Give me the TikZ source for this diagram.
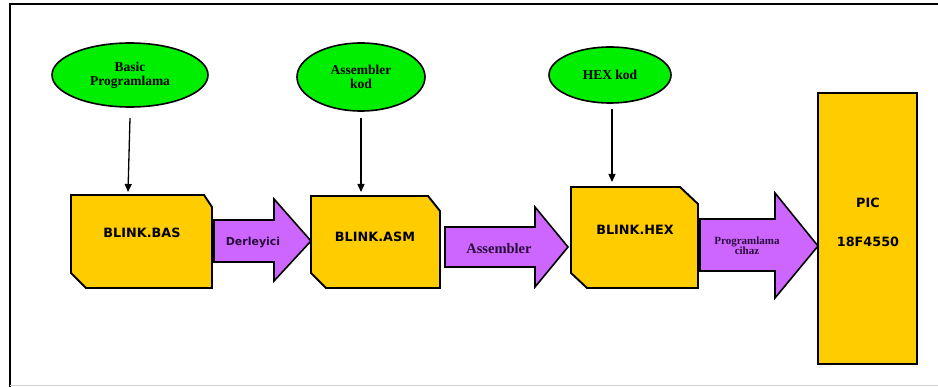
\documentclass[tikz,border=0pt]{standalone}
\usepackage{fontspec}
\setmainfont{Liberation Serif}
\newfontfamily\boxfont{DejaVu Sans}
\usetikzlibrary{shapes.geometric,arrows.meta}
\definecolor{srcgreen}{HTML}{00EE00}
\definecolor{fileyellow}{HTML}{FFCC00}
\definecolor{stepviolet}{HTML}{CC66FF}
\definecolor{labelink}{HTML}{2A0A3A}
\tikzset{
  source/.style={ellipse, draw=black, line width=1.6pt, fill=srcgreen,
    inner sep=0pt, align=center, font=\fontsize{13.5}{15}\selectfont\bfseries},
  filebox/.style={draw=black, line width=1.9pt, fill=fileyellow, line join=miter},
  blockarrow/.style={draw=black, line width=1.6pt, fill=stepviolet, line join=miter},
  boxlabel/.style={font=\boxfont\fontsize{12.8}{14}\selectfont\bfseries},
  feed/.style={-{Triangle[length=8pt,width=7pt]}, line width=1.3pt}
}
\begin{document}
\begin{tikzpicture}[x=1pt,y=-1pt]
\useasboundingbox (0,0) rectangle (938,387);
% outer frame
\draw[line width=2pt] (9.5,388) -- (9.5,4.5) -- (940,4.5);
\draw[line width=1pt, black!18] (9.5,386) -- (938,386);

% source ellipses
\node[source, minimum width=156pt, minimum height=64pt] (bas) at (130,75) {Basic\\[-1pt]Programlama};
\node[source, minimum width=128pt, minimum height=68pt] (asm) at (361,77) {Assembler\\[-1pt]kod};
\node[source, minimum width=122pt, minimum height=56pt] (hex) at (610,75) {HEX kod};

% file boxes with cut corners
\draw[filebox] (71,195) -- (204,195) -- (212,207) -- (212,288) -- (86,288) -- (71,273) -- cycle;
\draw[filebox] (311,196) -- (428,196) -- (440,211) -- (440,288) -- (326,288) -- (311,273) -- cycle;
\draw[filebox] (571,187) -- (680,187) -- (698,204) -- (698,288) -- (587,288) -- (571,273) -- cycle;
\draw[filebox] (818,93) rectangle (917,364);

\node[boxlabel] (fbas) at (142,233) {BLINK.BAS};
\node[boxlabel] (fasm) at (375,237) {BLINK.ASM};
\node[boxlabel] (fhex) at (635,230) {BLINK.HEX};
\node[boxlabel] (pic) at (868,203) {PIC};
\node[boxlabel] (chip) at (868,242) {18F4550};

% feeding arrows
\coordinate (tbas) at (128,192);
\coordinate (tasm) at (361,192);
\coordinate (thex) at (612,182);
\draw[feed] (bas.south |- 0,118) -- (tbas);
\draw[feed] (asm.south |- 0,118) -- (tasm);
\draw[feed] (612,109) -- (thex);

% block arrows between stages
\draw[blockarrow] (214,220) -- (274,220) -- (274,199) -- (311,241) -- (274,281) -- (274,262) -- (214,262) -- cycle;
\draw[blockarrow] (445,227) -- (535,227) -- (535,207) -- (568,247) -- (535,287) -- (535,267) -- (445,267) -- cycle;
\draw[blockarrow] (700,219) -- (775,219) -- (775,193) -- (818,246) -- (775,298) -- (775,271) -- (700,271) -- cycle;

\node[font=\boxfont\fontsize{11}{13}\selectfont\bfseries, text=labelink] (l1) at (253,243) {Derleyici};
\node[font=\fontsize{14.5}{16}\selectfont\bfseries, text=labelink] (l2) at (499,249) {Assembler};
\node[font=\fontsize{11}{12}\selectfont\bfseries, text=labelink, align=center] (l3) at (747,246) {Programlama\\[-2pt]cihaz};
\end{tikzpicture}
\end{document}
